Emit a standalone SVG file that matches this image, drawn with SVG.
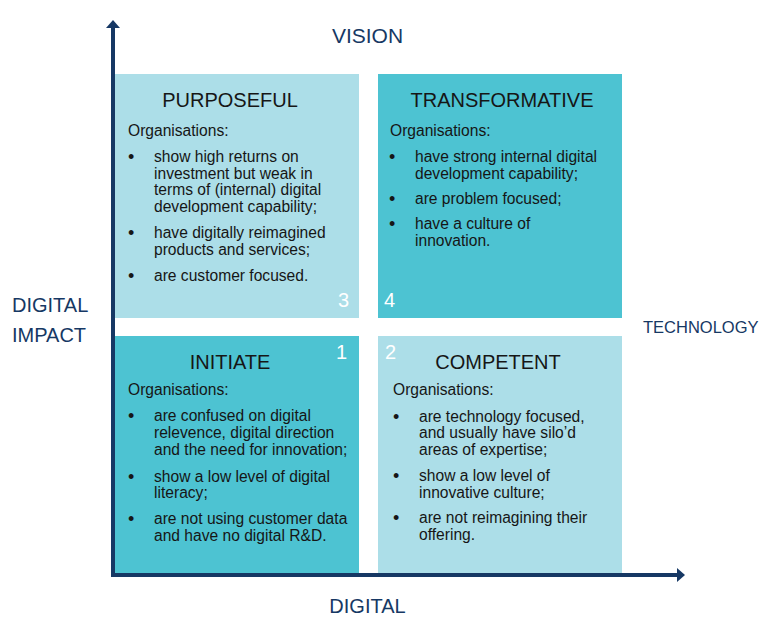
<svg xmlns="http://www.w3.org/2000/svg" width="768" height="622" viewBox="0 0 768 622">
<style>
.light{fill:#acdee8}
.dark{fill:#4dc3d2}
.t{font-family:"Liberation Sans",Arial,sans-serif;fill:#161616}
.title{font-size:20px;text-anchor:middle}
.body{font-size:15.6px}
.b{font-size:18px}
.num{font-family:"Liberation Sans",Arial,sans-serif;font-size:20px;fill:#ffffff}
.ax{font-family:"Liberation Sans",Arial,sans-serif;fill:#163864}
.axis{stroke:#163864;stroke-width:4;fill:none}
</style>
<defs>
<marker id="ah" markerUnits="userSpaceOnUse" markerWidth="8" markerHeight="14" refX="0" refY="7" orient="auto">
<path d="M0,0 L8,7 L0,14 z" fill="#163864"/>
</marker>
</defs>
<rect width="768" height="622" fill="#ffffff"/>

<g id="purposeful">
<rect class="light" x="115" y="74" width="244" height="244"/>
<text class="t title" x="230" y="107">PURPOSEFUL</text>
<text class="t body" x="128" y="136">Organisations:</text>
<g class="t body">
<text class="b" x="128" y="163">•</text>
<text x="154" y="162">show high returns on</text>
<text x="154" y="178.5">investment but weak in</text>
<text x="154" y="195">terms of (internal) digital</text>
<text x="154" y="212">development capability;</text>
<text class="b" x="128" y="239">•</text>
<text x="154" y="238">have digitally reimagined</text>
<text x="154" y="255">products and services;</text>
<text class="b" x="128" y="282">•</text>
<text x="154" y="281">are customer focused.</text>
</g>
<text class="num" x="338" y="307">3</text>
</g>

<g id="transformative">
<rect class="dark" x="378" y="74" width="244" height="244"/>
<text class="t title" x="502" y="107">TRANSFORMATIVE</text>
<text class="t body" x="390" y="136">Organisations:</text>
<g class="t body">
<text class="b" x="389" y="163">•</text>
<text x="415" y="162">have strong internal digital</text>
<text x="415" y="179">development capability;</text>
<text class="b" x="389" y="205">•</text>
<text x="415" y="204">are problem focused;</text>
<text class="b" x="389" y="230">•</text>
<text x="415" y="229">have a culture of</text>
<text x="415" y="246">innovation.</text>
</g>
<text class="num" x="384" y="307">4</text>
</g>

<g id="initiate">
<rect class="dark" x="115" y="336" width="244" height="238"/>
<text class="t title" x="230" y="369">INITIATE</text>
<text class="t body" x="128" y="395">Organisations:</text>
<g class="t body">
<text class="b" x="128" y="422">•</text>
<text x="154" y="421">are confused on digital</text>
<text x="154" y="438">relevence, digital direction</text>
<text x="154" y="455">and the need for innovation;</text>
<text class="b" x="128" y="483">•</text>
<text x="154" y="482">show a low level of digital</text>
<text x="154" y="498">literacy;</text>
<text class="b" x="128" y="525">•</text>
<text x="154" y="524">are not using customer data</text>
<text x="154" y="541">and have no digital R&amp;D.</text>
</g>
<text class="num" x="336" y="359">1</text>
</g>

<g id="competent">
<rect class="light" x="378" y="336" width="244" height="238"/>
<text class="t title" x="498" y="369">COMPETENT</text>
<text class="t body" x="393" y="395">Organisations:</text>
<g class="t body">
<text class="b" x="393" y="423">•</text>
<text x="419" y="422">are technology focused,</text>
<text x="419" y="438">and usually have silo’d</text>
<text x="419" y="455">areas of expertise;</text>
<text class="b" x="393" y="482">•</text>
<text x="419" y="481">show a low level of</text>
<text x="419" y="498">innovative culture;</text>
<text class="b" x="393" y="524">•</text>
<text x="419" y="523">are not reimagining their</text>
<text x="419" y="540">offering.</text>
</g>
<text class="num" x="385" y="359">2</text>
</g>

<g id="connectors">
<path class="axis" d="M113,577 L113,28" marker-end="url(#ah)"/>
<path class="axis" d="M111,575 L677,575" marker-end="url(#ah)"/>
</g>

<g id="label-vision"><text class="ax" x="367.5" y="43" font-size="21" text-anchor="middle">VISION</text></g>
<g id="label-digital"><text class="ax" x="367.5" y="613" font-size="20" text-anchor="middle">DIGITAL</text></g>
<g id="label-impact">
<text class="ax" x="12" y="312" font-size="20">DIGITAL</text>
<text class="ax" x="12" y="342" font-size="20">IMPACT</text>
</g>
<g id="label-technology"><text class="ax" x="643" y="333" font-size="16.5">TECHNOLOGY</text></g>
</svg>
